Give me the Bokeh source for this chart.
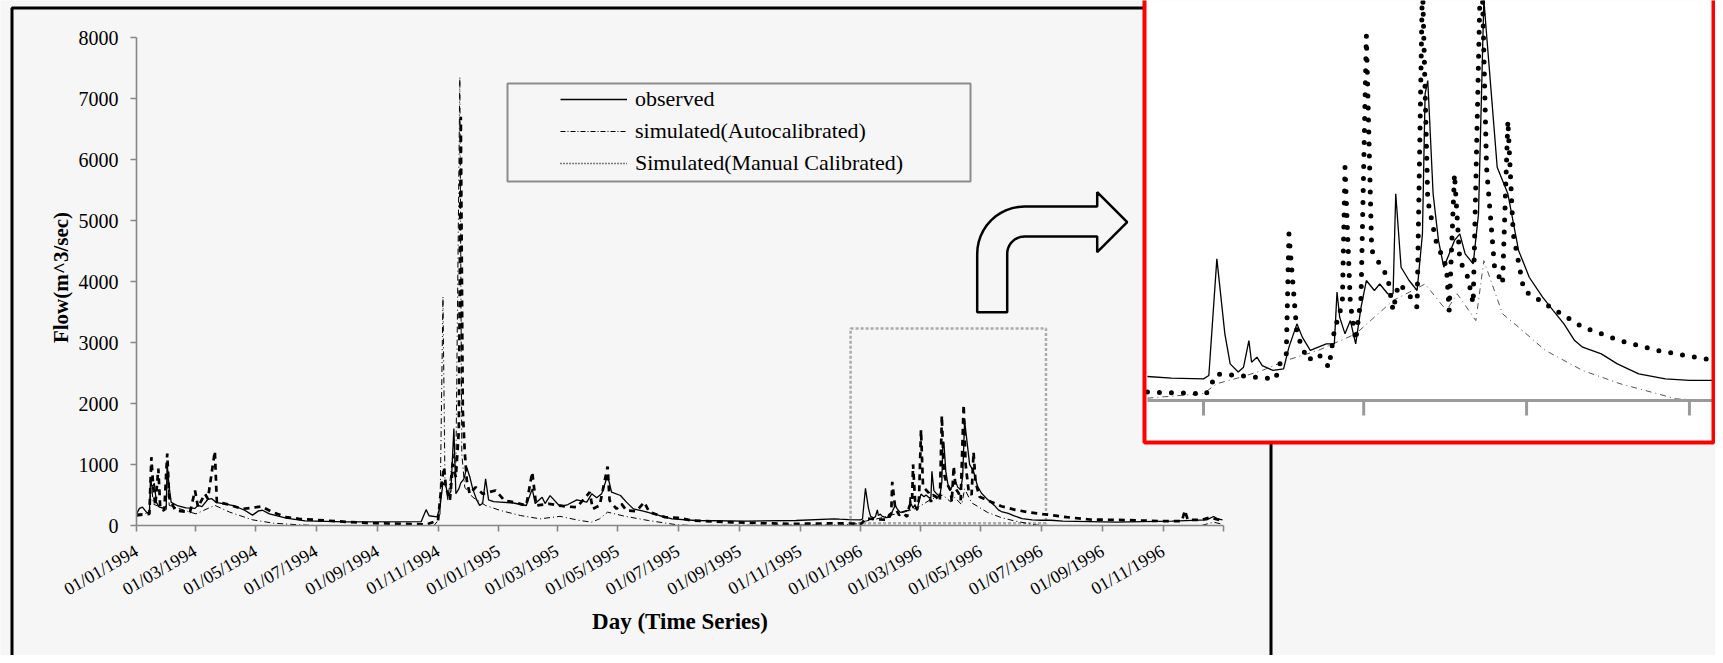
import math
import numpy as np
import pandas as pd
from bokeh.plotting import figure
from bokeh.models import (Range1d, LinearAxis, FixedTicker, Legend, LegendItem,
                          BoxAnnotation)
from bokeh.core.properties import value
from bokeh.embed import file_html
from bokeh.resources import INLINE

# ---------------- data ----------------
OBS_DATES = ["1994-01-01","1994-01-04","1994-01-07","1994-01-11","1994-01-14","1994-01-15","1994-01-17",
 "1994-01-19","1994-01-21","1994-01-24","1994-01-29","1994-01-31","1994-02-01","1994-02-03","1994-02-05",
 "1994-02-12","1994-02-20","1994-03-01","1994-03-04","1994-03-08","1994-03-14","1994-03-18","1994-03-22",
 "1994-04-01","1994-04-10","1994-04-20","1994-04-28","1994-05-04","1994-05-08","1994-05-15","1994-06-01",
 "1994-06-20","1994-08-01","1994-10-15","1994-10-20","1994-10-23","1994-10-31","1994-11-03","1994-11-06",
 "1994-11-09","1994-11-11","1994-11-14","1994-11-17","1994-11-19","1994-11-22","1994-11-24","1994-11-27",
 "1994-11-30","1994-12-03","1994-12-06","1994-12-10","1994-12-13","1994-12-16","1994-12-19","1994-12-22",
 "1994-12-27","1995-01-03","1995-01-16","1995-01-29","1995-02-04","1995-02-07","1995-02-14","1995-02-17",
 "1995-02-22","1995-03-04","1995-03-12","1995-03-21","1995-03-31","1995-04-05","1995-04-10","1995-04-15",
 "1995-04-21","1995-04-25","1995-05-04","1995-05-10","1995-05-17","1995-05-27","1995-06-12","1995-06-25",
 "1995-07-19","1995-09-07","1995-10-28","1995-12-05","1995-12-11","1995-12-20","1996-01-01","1996-01-03",
 "1996-01-06","1996-01-09","1996-01-11","1996-01-14","1996-01-16","1996-01-18","1996-01-19","1996-01-21",
 "1996-01-23","1996-01-27","1996-01-31","1996-02-02","1996-02-05","1996-02-07","1996-02-10","1996-02-13",
 "1996-02-16","1996-02-19","1996-02-20","1996-02-21","1996-02-23","1996-02-25","1996-02-27","1996-02-29",
 "1996-03-02","1996-03-05","1996-03-07","1996-03-10","1996-03-12","1996-03-13","1996-03-15","1996-03-18",
 "1996-03-21","1996-03-23","1996-03-24","1996-03-25","1996-03-27","1996-03-29","1996-03-31","1996-04-02",
 "1996-04-04","1996-04-06","1996-04-08","1996-04-11","1996-04-13","1996-04-15","1996-04-16","1996-04-18",
 "1996-04-20","1996-04-24","1996-04-28","1996-05-02","1996-05-07","1996-05-11","1996-05-15","1996-05-19",
 "1996-05-22","1996-05-29","1996-06-04","1996-06-12","1996-06-22","1996-07-01","1996-07-11","1996-07-23",
 "1996-09-15","1996-11-10","1996-12-15","1996-12-22","1996-12-26","1996-12-31"]
OBS_FLOW = [190,280,300,220,200,700,640,
 690,380,300,280,320,1000,620,380,
 320,290,280,330,310,430,440,380,
 350,320,250,170,240,250,190,120,
 75,58,62,260,160,140,300,700,
 650,480,560,1590,520,600,700,760,
 950,800,600,420,330,360,765,420,
 390,383,369,328,600,360,464,360,
 490,311,344,420,383,519,453,519,
 820,546,492,383,273,235,164,110,
 82,71,82,110,103,96,93,107,
 608,286,157,122,143,257,164,186,
 150,129,136,229,329,272,215,229,
 243,243,465,358,286,343,243,400,
 515,472,500,458,458,887,572,515,
 472,715,1316,1373,887,687,572,629,
 687,715,629,586,801,1720,1574,1288,
 1001,887,644,529,444,386,329,257,
 229,200,157,114,93,86,86,71,
 55,71,93,148,109,93]

AUTO_DATES = ["1994-01-01","1994-01-14","1994-01-16","1994-01-18","1994-01-31","1994-02-01","1994-02-03",
 "1994-02-24","1994-03-02","1994-03-10","1994-03-21","1994-04-05","1994-04-28","1994-05-19","1994-06-14",
 "1994-07-01","1994-10-28","1994-11-01","1994-11-03","1994-11-06","1994-11-08","1994-11-11","1994-11-16",
 "1994-11-19","1994-11-23","1994-11-25","1994-11-28","1994-12-06","1994-12-19","1995-01-03","1995-01-23",
 "1995-02-12","1995-03-04","1995-03-24","1995-04-05","1995-04-13","1995-04-21","1995-05-08","1995-06-01",
 "1995-06-30","1995-07-15","1995-12-11","1996-01-01","1996-01-06","1996-01-15","1996-01-23","1996-02-01",
 "1996-02-13","1996-02-27","1996-03-12","1996-03-24","1996-04-01","1996-04-05","1996-04-12","1996-04-15",
 "1996-04-22","1996-04-28","1996-05-08","1996-05-22","1996-06-05","1996-06-19","1996-06-26","1996-07-10",
 "1996-12-10","1996-12-22","1996-12-31"]
AUTO_FLOW = [190,200,700,350,260,950,330,
 219,191,250,330,219,93,38,11,
 0,0,82,191,3750,738,410,1175,
 902,7350,1175,628,464,328,246,164,
 109,150,82,55,110,219,153,82,
 11,0,10,30,72,100,129,172,
 215,286,429,500,386,458,343,600,
 372,315,215,129,72,29,7,0,
 0,55,20]

MAN_DATES = ["1994-01-01","1994-01-14","1994-01-16","1994-01-18","1994-01-20","1994-01-23","1994-01-25",
 "1994-01-29","1994-02-01","1994-02-03","1994-02-09","1994-02-24","1994-03-01","1994-03-04","1994-03-11",
 "1994-03-14","1994-03-21","1994-03-23","1994-04-01","1994-04-18","1994-05-02","1994-05-07","1994-05-18",
 "1994-06-01","1994-06-14","1994-07-20","1994-08-25","1994-09-30","1994-10-20","1994-11-01","1994-11-05",
 "1994-11-07","1994-11-09","1994-11-13","1994-11-16","1994-11-19","1994-11-22","1994-11-24","1994-11-26",
 "1994-11-28","1994-11-30","1994-12-03","1994-12-09","1994-12-16","1994-12-29","1995-01-07","1995-01-16",
 "1995-01-29","1995-02-04","1995-02-08","1995-02-21","1995-03-10","1995-03-21","1995-04-03","1995-04-06",
 "1995-04-13","1995-04-21","1995-04-23","1995-04-30","1995-05-05","1995-05-10","1995-05-20","1995-05-28",
 "1995-06-02","1995-06-18","1995-07-01","1995-07-15","1995-08-20","1995-10-20","1995-12-11","1996-01-02",
 "1996-01-06","1996-01-14","1996-01-20","1996-01-28","1996-01-30","1996-02-01","1996-02-02","1996-02-05",
 "1996-02-09","1996-02-13","1996-02-17","1996-02-19","1996-02-22","1996-02-23","1996-02-25","1996-02-27",
 "1996-02-29","1996-03-02","1996-03-04","1996-03-07","1996-03-10","1996-03-12","1996-03-14","1996-03-17",
 "1996-03-21","1996-03-23","1996-03-25","1996-03-28","1996-04-01","1996-04-02","1996-04-04","1996-04-06",
 "1996-04-09","1996-04-11","1996-04-14","1996-04-16","1996-04-19","1996-04-22","1996-04-24","1996-04-26",
 "1996-04-30","1996-05-04","1996-05-12","1996-05-22","1996-06-05","1996-06-19","1996-07-03","1996-07-11",
 "1996-07-27","1996-08-19","1996-09-15","1996-11-01","1996-11-20","1996-11-23","1996-11-26","1996-12-10",
 "1996-12-18","1996-12-31"]
MAN_FLOW = [164,191,1120,601,328,934,273,
 246,1180,464,246,219,574,300,519,
 437,1218,383,355,273,300,311,219,
 137,110,71,38,27,16,82,738,
 956,628,410,1011,792,1557,6700,1885,
 1200,740,519,628,519,574,410,383,
 328,874,328,355,311,300,546,273,
 328,967,410,273,355,246,235,383,
 219,137,126,82,55,27,36,29,
 114,107,100,93,172,200,715,286,
 172,200,143,300,415,1001,415,257,
 443,1567,644,586,529,386,500,472,
 400,1800,858,687,572,386,972,601,
 529,415,1980,1001,572,500,1202,715,
 472,444,386,315,257,215,186,172,
 136,98,93,71,71,246,93,93,
 131,80]

TICK_DATES = ["1994-01-01","1994-03-01","1994-05-01","1994-07-01","1994-09-01","1994-11-01",
              "1995-01-01","1995-03-01","1995-05-01","1995-07-01","1995-09-01","1995-11-01",
              "1996-01-01","1996-03-01","1996-05-01","1996-07-01","1996-09-01","1996-11-01",
              "1997-01-01"]
TICK_LABELS = ["01/01/1994","01/03/1994","01/05/1994","01/07/1994","01/09/1994","01/11/1994",
               "01/01/1995","01/03/1995","01/05/1995","01/07/1995","01/09/1995","01/11/1995",
               "01/01/1996","01/03/1996","01/05/1996","01/07/1996","01/09/1996","01/11/1996",
               ""]
Y_TICKS = [0, 1000, 2000, 3000, 4000, 5000, 6000, 7000, 8000]
INSET_TICK_DATES = ["1996-01-01", "1996-03-01", "1996-05-01", "1996-07-01"]

SERIES_NAMES = ["observed", "simulated(Autocalibrated)", "Simulated(Manual Calibrated)"]
X_TITLE = "Day (Time Series)"
Y_TITLE = "Flow(m^3/sec)"

# ---------------- layout constants ----------------
W, H = 1715, 655
BG = "#f6f6f6"
FONT = "Liberation Serif"
AXIS_GRAY = "#868686"

T0 = pd.Timestamp("1994-01-01")
def to_days(dates):
    return [float((pd.Timestamp(d) - T0).days) for d in dates]

END_DAY = to_days(["1997-01-01"])[0]
AX_LEFT, AX_RIGHT = 136, 1223
AX_ZERO, AX_TOP = 525, 37
ppd = (AX_RIGHT - AX_LEFT) / END_DAY
ppv = (AX_ZERO - AX_TOP) / 8000.0

x_range = Range1d(-AX_LEFT / ppd, (W - AX_LEFT) / ppd)
y_range = Range1d(-(H - AX_ZERO) / ppv, AX_ZERO / ppv)

p = figure(width=W, height=H, x_range=x_range, y_range=y_range,
           output_backend="svg", toolbar_location=None, title=None,
           x_axis_location=None, y_axis_location=None,
           min_border=0, min_border_left=0, min_border_right=0,
           min_border_top=0, min_border_bottom=0)
p.grid.visible = False
p.background_fill_color = BG
p.border_fill_color = BG
p.outline_line_color = None

INSET_DAY0 = to_days(["1996-01-01"])[0]
IN_X0 = 1203
IN_PPD = 2.67
IN_ZERO = 400
IN_PPV = 0.233
p.extra_x_ranges = {
    "px": Range1d(0, W),
    "ix": Range1d(INSET_DAY0 - IN_X0 / IN_PPD, INSET_DAY0 + (W - IN_X0) / IN_PPD),
}
p.extra_y_ranges = {
    "py": Range1d(H, 0),
    "iy": Range1d(-(H - IN_ZERO) / IN_PPV, IN_ZERO / IN_PPV),
}

# outer black frame
p.quad(left=[11.5], right=[1270.5], top=[7.5], bottom=[H + 40],
       x_range_name="px", y_range_name="py", fill_color=None,
       line_color="black", line_width=3)

# axes
tick_days = [int(d) for d in to_days(TICK_DATES)]
xaxis = LinearAxis(ticker=FixedTicker(ticks=tick_days, minor_ticks=[]),
                   major_label_overrides=dict(zip(tick_days, TICK_LABELS)),
                   fixed_location=0, bounds=(0, END_DAY))
yaxis = LinearAxis(ticker=FixedTicker(ticks=Y_TICKS, minor_ticks=[]),
                   fixed_location=0, bounds=(0, 8000))
for ax in (xaxis, yaxis):
    ax.axis_line_color = AXIS_GRAY
    ax.axis_line_width = 1.6
    ax.major_tick_line_color = AXIS_GRAY
    ax.major_tick_line_width = 1.6
    ax.major_tick_out = 6
    ax.major_tick_in = 0
    ax.minor_tick_line_color = None
    ax.major_label_text_font = FONT
    ax.major_label_text_color = "black"
xaxis.major_label_text_font_size = "18px"
xaxis.major_label_orientation = math.pi / 6
xaxis.major_label_standoff = 18
yaxis.major_label_text_font_size = "20px"
yaxis.major_label_standoff = 12
p.add_layout(xaxis, "below")
p.add_layout(yaxis, "left")

# axis titles
p.text(x=[(AX_LEFT + AX_RIGHT) / 2], y=[621], text=[X_TITLE], x_range_name="px", y_range_name="py",
       text_font=value(FONT), text_font_style="bold", text_font_size="23px",
       text_align="center", text_baseline="middle", text_color="black")
p.text(x=[60], y=[277], text=[Y_TITLE], x_range_name="px", y_range_name="py",
       angle=math.pi / 2, text_font=value(FONT), text_font_style="bold",
       text_font_size="21px", text_align="center", text_baseline="middle",
       text_color="black")

# main series
obs_d, auto_d, man_d = to_days(OBS_DATES), to_days(AUTO_DATES), to_days(MAN_DATES)
p.line(auto_d, AUTO_FLOW, line_color="black", line_width=1, line_dash="6 3 1 3")
p.line(obs_d, OBS_FLOW, line_color="black", line_width=1.3)
p.line(man_d, MAN_FLOW, line_color="black", line_width=2.7, line_dash="6 5")

# dotted zoom window
ZOOM_FROM, ZOOM_TO, ZOOM_LOW, ZOOM_HIGH = "1995-12-22", "1996-07-06", 38, 3230
zd = to_days([ZOOM_FROM, ZOOM_TO])
p.add_layout(BoxAnnotation(left=zd[0], right=zd[1], bottom=ZOOM_LOW, top=ZOOM_HIGH,
                           fill_color=None, line_color="black", line_width=2.5,
                           line_dash="3 2"))

# bent arrow
cxo, cyo = 1024, 253.3
r_out, r_in = 47.3, 17.3
stem_bottom = 311.7
shaft_end, tip_x = 1096.7, 1126.7
head_top, head_bot = 191.7, 251.7
xs, ys = [cxo - r_in, cxo - r_in], [stem_bottom, cyo]
for k in range(13):
    a = math.pi - k * (math.pi / 2) / 12
    xs.append(cxo + r_in * math.cos(a)); ys.append(cyo - r_in * math.sin(a))
xs += [shaft_end, shaft_end, tip_x, shaft_end, shaft_end]
ys += [cyo - r_in, head_bot, (head_top + head_bot) / 2, head_top, cyo - r_out]
for k in range(13):
    a = math.pi / 2 + k * (math.pi / 2) / 12
    xs.append(cxo + r_out * math.cos(a)); ys.append(cyo - r_out * math.sin(a))
xs += [cxo - r_out]; ys += [stem_bottom]
p.patch(xs, ys, x_range_name="px", y_range_name="py", fill_color=BG,
        line_color="black", line_width=2.5)

# legend box + legend
p.quad(left=[507], right=[970], top=[83], bottom=[181],
       x_range_name="px", y_range_name="py", fill_color=None,
       line_color="#8c8c8c", line_width=2)
nan2 = np.array([np.nan, np.nan])
lr_obs = p.line(nan2, nan2, line_color="black", line_width=1.6)
lr_auto = p.line(nan2, nan2, line_color="black", line_width=1, line_dash="5 2 1 2")
lr_man = p.line(nan2, nan2, line_color="black", line_width=1.4, line_dash="1 2")
legend = Legend(items=[LegendItem(label=SERIES_NAMES[0], renderers=[lr_obs]),
                       LegendItem(label=SERIES_NAMES[1], renderers=[lr_auto]),
                       LegendItem(label=SERIES_NAMES[2], renderers=[lr_man])],
                location=(560, H - 86 - 90), orientation="vertical",
                glyph_width=67, glyph_height=26, label_height=26, spacing=6,
                padding=0, margin=0, label_standoff=8,
                border_line_alpha=0, background_fill_alpha=0,
                label_text_font=FONT, label_text_font_size="22px",
                label_text_color="black")
p.add_layout(legend)

# inset
IN_L, IN_R, IN_B = 1144, W - 2, 442
p.quad(left=[IN_L], right=[IN_R], top=[-20], bottom=[IN_B],
       x_range_name="px", y_range_name="py", fill_color="white", line_color=None)
INSET_FROM, INSET_TO = "1995-12-11", "1996-09-01"
lo, hi = to_days([INSET_FROM, INSET_TO])
def window(d, v):
    pts = [(a, b) for a, b in zip(d, v) if lo <= a <= hi]
    return [a for a, _ in pts], [b for _, b in pts]
wd, wv = window(auto_d, AUTO_FLOW)
p.line(wd, wv, x_range_name="ix", y_range_name="iy", line_color="#555555",
       line_width=1, line_dash="6 4 1 4")
wd, wv = window(obs_d, OBS_FLOW)
p.line(wd, wv, x_range_name="ix", y_range_name="iy", line_color="black", line_width=1.3)
wd, wv = window(man_d, MAN_FLOW)
p.line(wd, wv, x_range_name="ix", y_range_name="iy", line_color="black",
       line_width=5, line_dash="0 12", line_cap="round")
p.line([lo, hi], [0, 0], x_range_name="ix", y_range_name="iy",
       line_color="#9a9a9a", line_width=3)
itd = to_days(INSET_TICK_DATES)
p.segment(x0=itd, y0=[0] * len(itd), x1=itd, y1=[-15 / IN_PPV] * len(itd),
          x_range_name="ix", y_range_name="iy", line_color="#9a9a9a", line_width=3)
p.quad(left=[IN_L], right=[IN_R], top=[-20], bottom=[IN_B],
       x_range_name="px", y_range_name="py", fill_color=None,
       line_color="#ff0000", line_width=4)

open("out.html", "w").write(file_html(p, INLINE))
